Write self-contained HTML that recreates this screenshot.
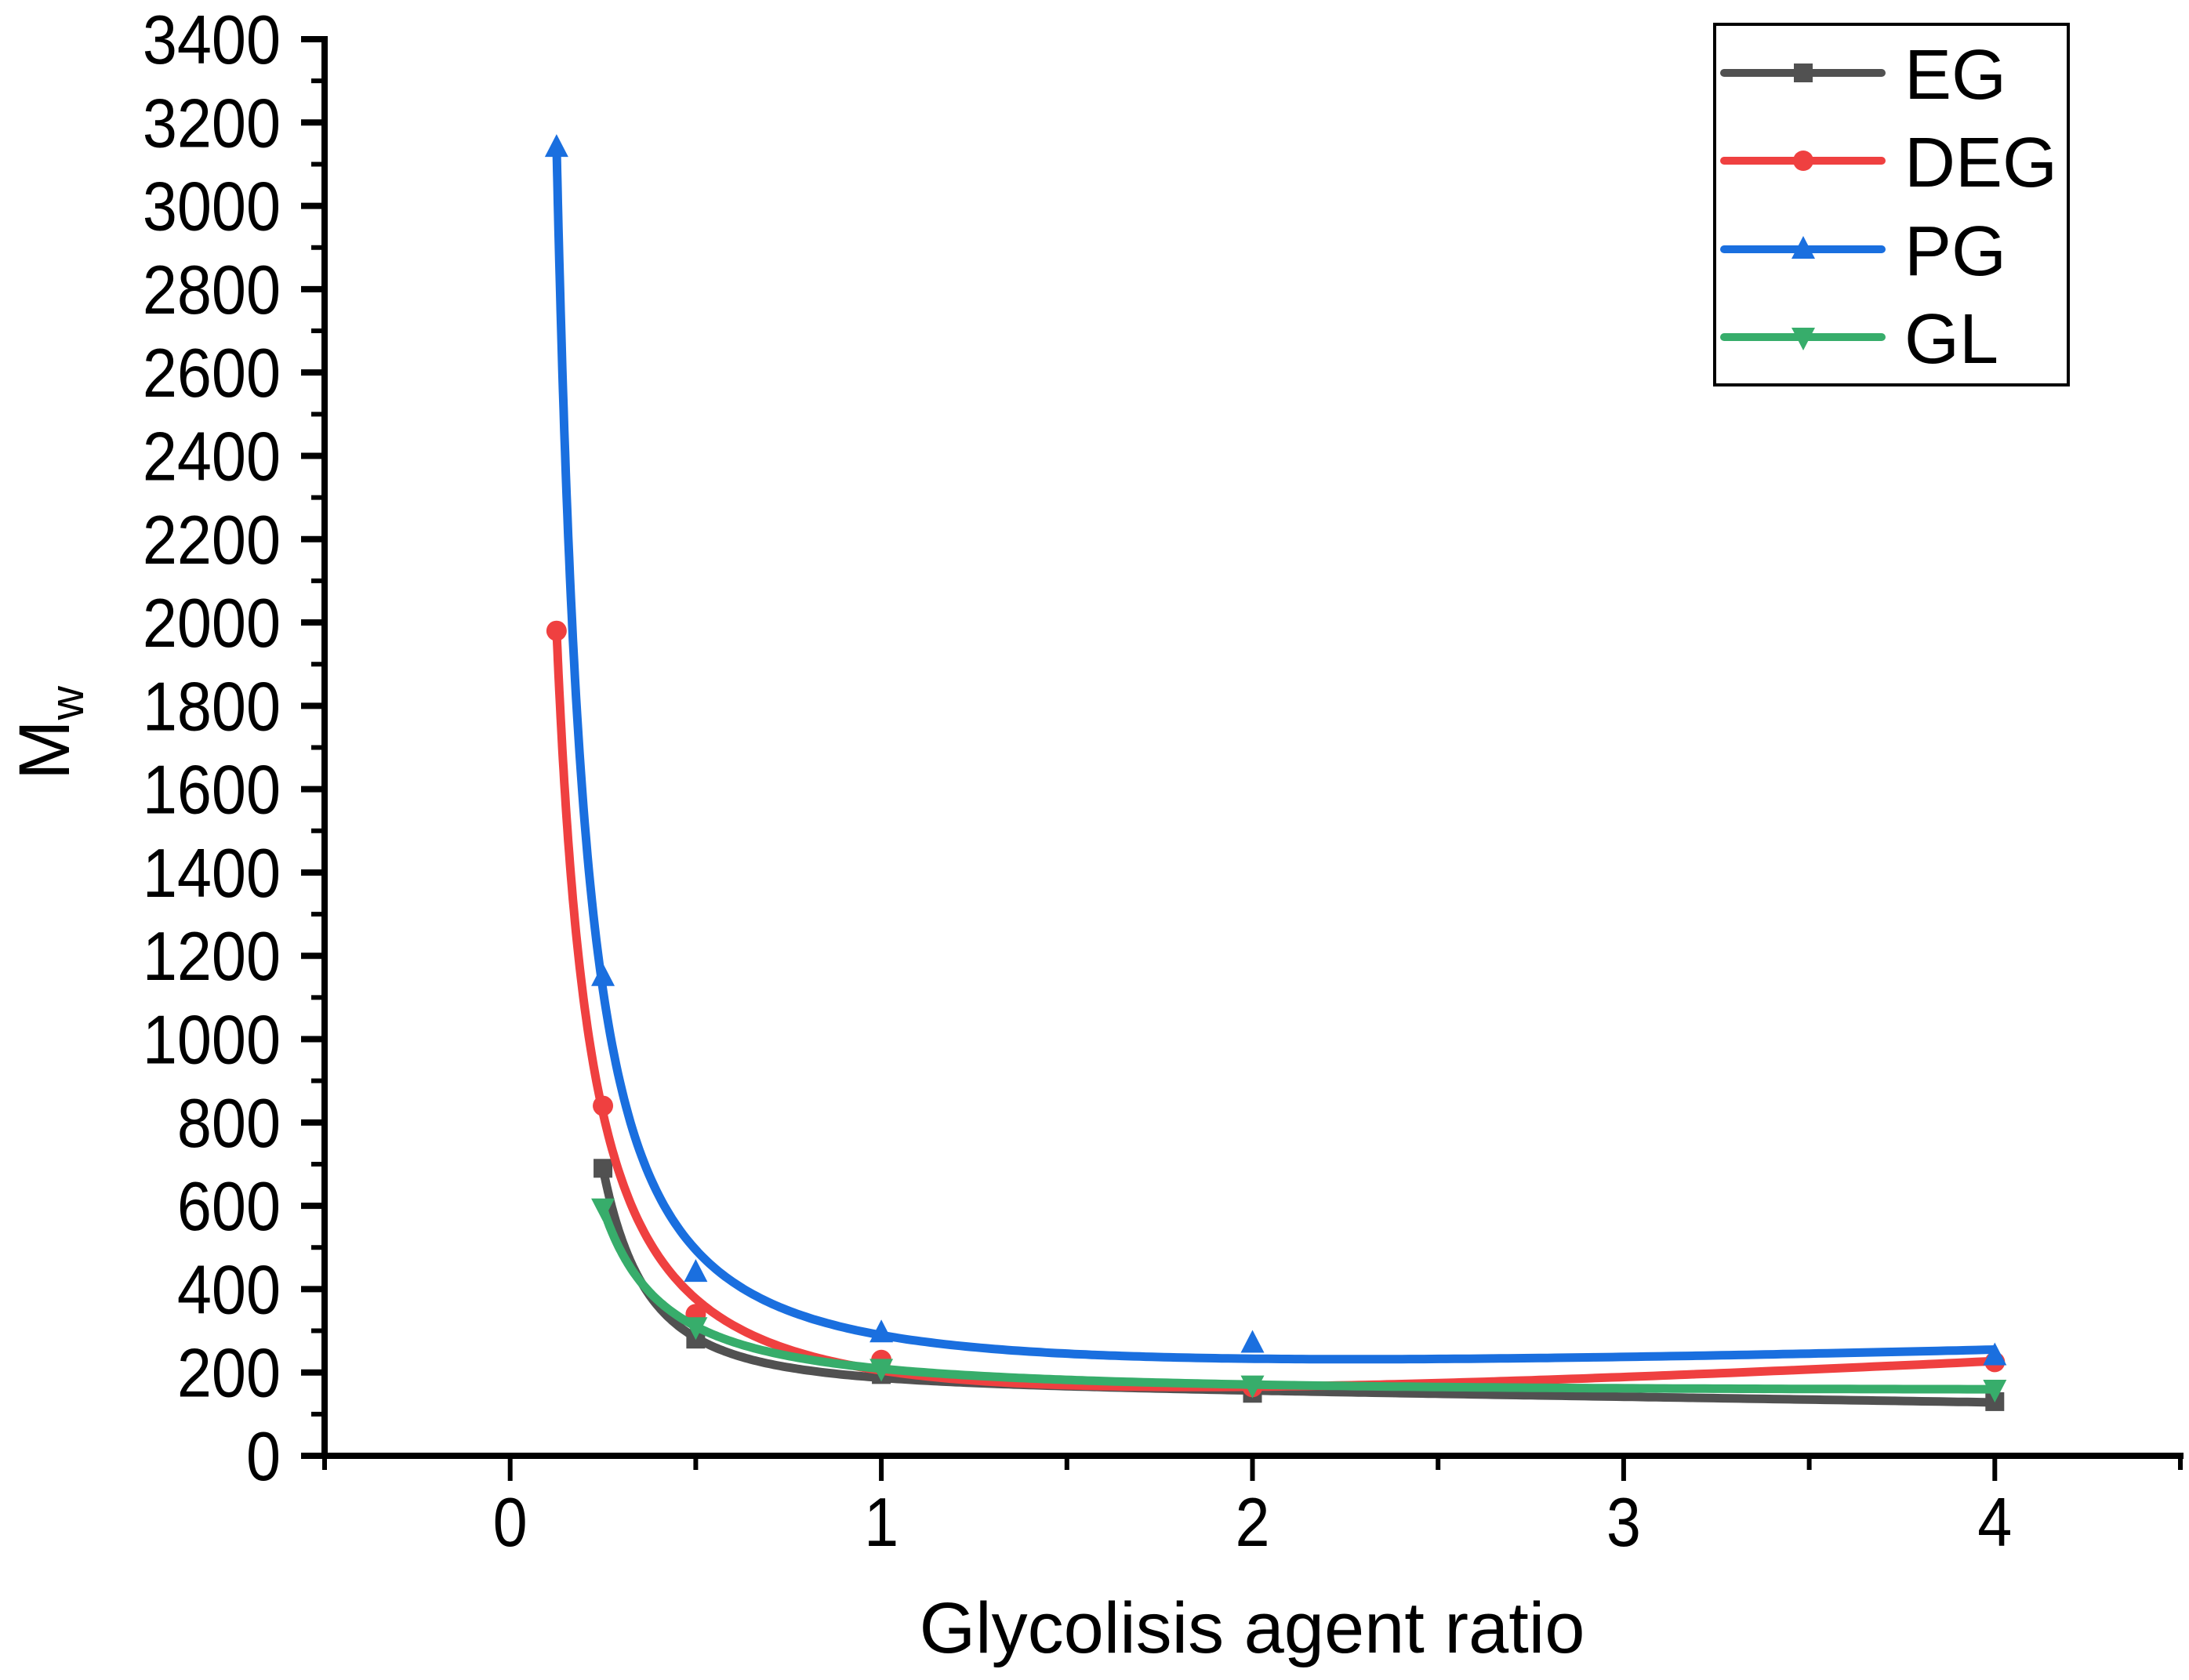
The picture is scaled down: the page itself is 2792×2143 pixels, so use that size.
<!DOCTYPE html>
<html><head><meta charset="utf-8">
<style>
html,body{margin:0;padding:0;background:#fff;}
svg text{font-family:"Liberation Sans",Arial,sans-serif;fill:#000;}
</style></head>
<body>
<svg id="chart" width="2792" height="2138" viewBox="0 0 2792 2138" xmlns="http://www.w3.org/2000/svg">
<g id="plot"></g>
</svg>
<script>
const seriesNames = ["EG","DEG","PG","GL"];
const seriesColors = ["#515151","#ef4040","#1a6fdf","#37ad6b"];
const xEG = [0.25,0.5,1,2,4];
const yEG = [690,280,195,150,130];
const xDEG = [0.125,0.25,0.5,1,2,4];
const yDEG = [1980,840,340,230,165,225];
const xPG = [0.125,0.25,0.5,1,2,4];
const yPG = [3140,1150,440,295,270,240];
const xGL = [0.25,0.5,1,2,4];
const yGL = [595,310,210,170,160];
const xTicks = [0,1,2,3,4];
const yTicks = [0,200,400,600,800,1000,1200,1400,1600,1800,2000,2200,2400,2600,2800,3000,3200,3400];

const NS="http://www.w3.org/2000/svg";
const g=document.getElementById('plot');
const X0=414, X1=2781, Y0=1857, Ytop=50;
const xmin=-0.5,xmax=4.5,ymin=0,ymax=3400;
function sx(v){return X0+(v-xmin)/(xmax-xmin)*(X1-X0);}
function sy(v){return Y0-(v-ymin)/(ymax-ymin)*(Y0-Ytop);}
function mk(tag,attrs,parent){const e=document.createElementNS(NS,tag);for(const k in attrs)e.setAttribute(k,attrs[k]);(parent||g).appendChild(e);return e;}

let e;
e=mk('line',{x1:X0,y1:Ytop-4,x2:X0,y2:Y0+4,stroke:'#000','stroke-width':8});


e=mk('line',{x1:X0-4,y1:Y0,x2:X1+4,y2:Y0,stroke:'#000','stroke-width':8});



yTicks.forEach((t,i)=>{
  const y=sy(t);
  const tk=mk('line',{x1:X0-30,y1:y,x2:X0,y2:y,stroke:'#000','stroke-width':8});
  
  
  if(i<yTicks.length-1){
    const ym=sy(t+100);
    const mt=mk('line',{x1:X0-17,y1:ym,x2:X0,y2:ym,stroke:'#000','stroke-width':6});
    
    
  }
  const tx=mk('text',{x:0,y:0,'font-size':88,'text-anchor':'end',transform:`translate(358,${y+31}) scale(0.9,1)`});
  tx.textContent=t;
  
  
});
for(let v=-0.5;v<=4.5001;v+=0.5){
  const x=sx(v);
  const major=Math.abs(v-Math.round(v))<1e-6;
  const tk=mk('line',{x1:x,y1:Y0,x2:x,y2:Y0+(major?32:18),stroke:'#000','stroke-width':6});
  
  
}
xTicks.forEach(t=>{
  const tx=mk('text',{x:0,y:0,'font-size':88,'text-anchor':'middle',transform:`translate(${sx(t)},1972) scale(0.9,1)`});
  tx.textContent=t;
  
  
});
e=mk('text',{x:1597,y:2108,'font-size':92,'text-anchor':'middle'});
e.textContent='Glycolisis agent ratio';


e=mk('text',{x:0,y:0,'font-size':92,'text-anchor':'middle',transform:'translate(88,935) rotate(-90)'});
e.innerHTML='M<tspan font-size="60" dy="18">w</tspan>';



function fit(xs,ys){
  const B=x=>[1,1/x,1/(x*x),x];
  const n=4,A=[...Array(n)].map(()=>Array(n+1).fill(0));
  xs.forEach((x,i)=>{const b=B(x);for(let r=0;r<n;r++){for(let c=0;c<n;c++)A[r][c]+=b[r]*b[c];A[r][n]+=b[r]*ys[i];}});
  for(let r=0;r<n;r++)A[r][r]+=1e-9;
  for(let c=0;c<n;c++){let p=c;for(let r=c+1;r<n;r++)if(Math.abs(A[r][c])>Math.abs(A[p][c]))p=r;[A[c],A[p]]=[A[p],A[c]];
    for(let r=0;r<n;r++){if(r===c)continue;const f=A[r][c]/A[c][c];for(let k=c;k<=n;k++)A[r][k]-=f*A[c][k];}}
  const w=A.map((row,i)=>row[n]/row[i]);
  return x=>{const b=B(x);return b.reduce((s,v,i)=>s+v*w[i],0);};
}
const allX=[xEG,xDEG,xPG,xGL], allY=[yEG,yDEG,yPG,yGL];
function marker(type,x,y,color,parent){
  const s=12;let m;
  if(type===0)m=mk('rect',{x:x-s,y:y-s,width:2*s,height:2*s,fill:color},parent);
  else if(type===1)m=mk('circle',{cx:x,cy:y,r:s+1,fill:color},parent);
  else if(type===2)m=mk('polygon',{points:`${x},${y-s-5} ${x-s-3},${y+s} ${x+s+3},${y+s}`,fill:color},parent);
  else m=mk('polygon',{points:`${x},${y+s+5} ${x-s-3},${y-s} ${x+s+3},${y-s}`,fill:color},parent);
  return m;
}
seriesNames.forEach((name,si)=>{
  const xs=allX[si],ys=allY[si],col=seriesColors[si];
  const f=fit(xs,ys);
  const grp=mk('g',{});
  
  
  let d='';const x0=xs[0],x1=xs[xs.length-1];
  for(let i=0;i<=300;i++){const t=x0+(x1-x0)*Math.pow(i/300,2);const v=i===0?ys[0]:f(t);d+=(i?'L':'M')+sx(t).toFixed(1)+','+sy(v).toFixed(1);}
  const p=mk('path',{d:d,fill:'none',stroke:col,'stroke-width':11,'stroke-linejoin':'round'},grp);
  
  
  xs.forEach((x,i)=>{
    const m=marker(si,sx(x),sy(ys[i]),col,grp);
    
    
  });
});

const lg=mk('g',{});


e=mk('rect',{x:2187,y:31,width:451,height:460,fill:'#fff',stroke:'#000','stroke-width':4},lg);


const legY=[93,205,318,430];
seriesNames.forEach((name,si)=>{
  const y=legY[si];
  const eg=mk('g',{},lg);
  
  
  mk('line',{x1:2199,x2:2400,y1:y,y2:y,stroke:seriesColors[si],'stroke-width':10,'stroke-linecap':'round'},eg);
  marker(si,2300,y,seriesColors[si],eg);
  const t=mk('text',{x:2429,y:y+33,'font-size':90},eg);
  t.textContent=name;
});
</script>
</body></html>
